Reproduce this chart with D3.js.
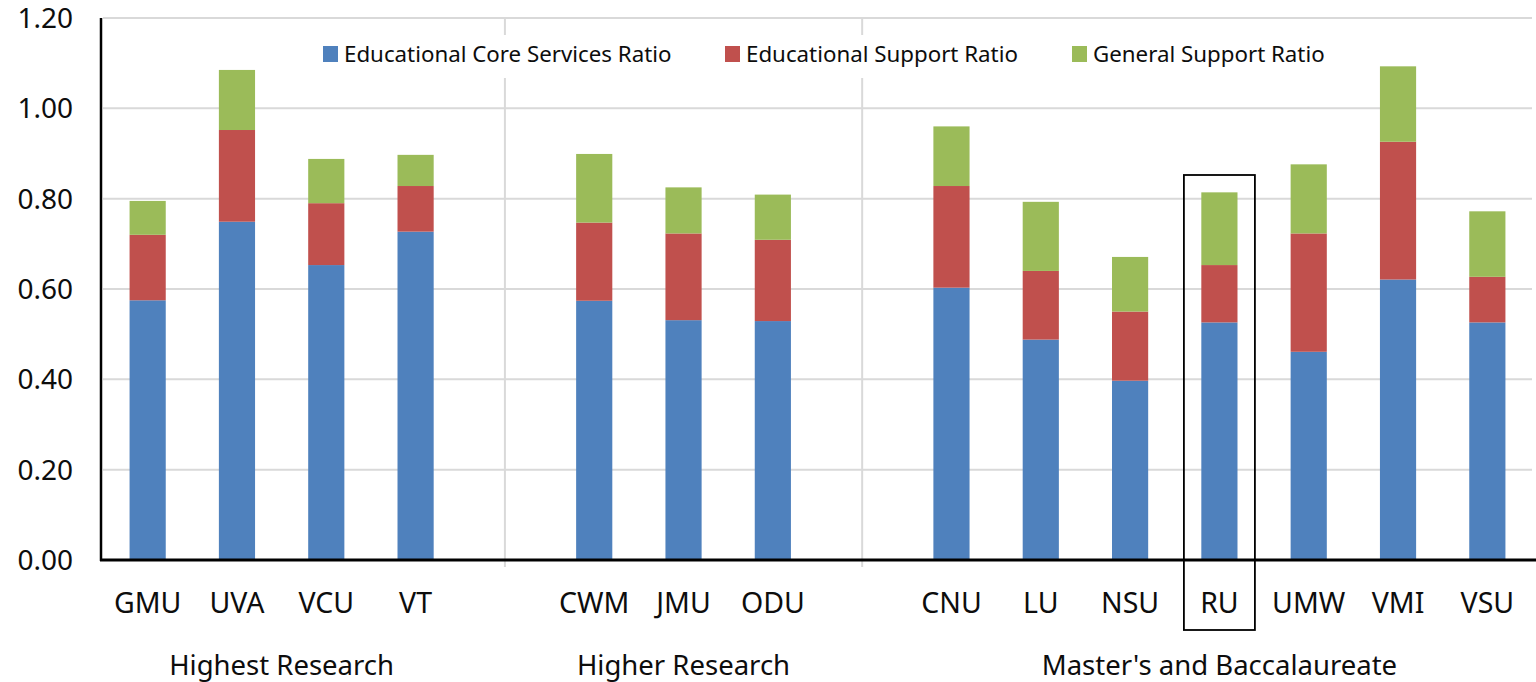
<!DOCTYPE html>
<html>
<head>
<meta charset="utf-8">
<script src="https://d3js.org/d3.v7.min.js"></script>
<style>
  body { margin: 0; background: #fff; }
  svg { display: block; font-family: 'Noto Sans', 'Open Sans', sans-serif; }
  .grid line { stroke: #d9d9d9; stroke-width: 2px; }
  .label { fill: #0d0d0d; }
</style>
</head>
<body>
<div id="chart"></div>
<script>
/* global d3 */

// institutions, in plotting order (empty slots separate the groups)
var institutions = ['GMU', 'UVA', 'VCU', 'VT', 'CWM', 'JMU', 'ODU', 'CNU', 'LU', 'NSU', 'RU', 'UMW', 'VMI', 'VSU'];

// groups of institutions
var groupNames = ['Highest Research', 'Higher Research', "Master's and Baccalaureate"];
var groupMembers = [
  ['GMU', 'UVA', 'VCU', 'VT'],
  ['CWM', 'JMU', 'ODU'],
  ['CNU', 'LU', 'NSU', 'RU', 'UMW', 'VMI', 'VSU']
];

// series (stacked from bottom)
var seriesNames = ['Educational Core Services Ratio', 'Educational Support Ratio', 'General Support Ratio'];
var seriesColors = ['#4f81bd', '#c0504d', '#9bbb59'];

var coreServices = [0.575, 0.749, 0.653, 0.727, 0.574, 0.531, 0.529, 0.603, 0.488, 0.397, 0.526, 0.461, 0.621, 0.526];
var eduSupport = [0.145, 0.203, 0.137, 0.101, 0.173, 0.192, 0.180, 0.225, 0.152, 0.153, 0.127, 0.262, 0.305, 0.101];
var genSupport = [0.075, 0.133, 0.098, 0.069, 0.152, 0.102, 0.100, 0.132, 0.153, 0.121, 0.161, 0.153, 0.167, 0.145];

// y ticks
var yTicks = [0, 0.2, 0.4, 0.6, 0.8, 1.0, 1.2];

// highlighted institution
var highlighted = 'RU';

var width = 1536;
var height = 682;

var plotLeft = 103;
var plotRight = 1532;
var plotTop = 18;
var plotBottom = 560;

// slot list including gap slots between groups
var slots = [];
groupMembers.forEach(function(g, i) {
  if (i > 0) slots.push('_gap' + i);
  g.forEach(function(c) { slots.push(c); });
});

var x = d3.scaleBand()
  .domain(slots)
  .range([plotLeft, plotRight])
  .paddingInner(0.595)
  .paddingOuter(0.2975);

var y = d3.scaleLinear()
  .domain([0, 1.2])
  .range([plotBottom, plotTop]);

// table for the stack
var rows = institutions.map(function(name, i) {
  return { name: name, s0: coreServices[i], s1: eduSupport[i], s2: genSupport[i] };
});
var stacked = d3.stack().keys(['s0', 's1', 's2'])(rows);

var svg = d3.select('#chart').append('svg')
  .attr('width', width)
  .attr('height', height);

// horizontal gridlines
svg.append('g')
  .attr('class', 'grid')
  .selectAll('line').data(yTicks.slice(1)).enter()
  .append('line')
  .attr('x1', plotLeft).attr('x2', plotRight)
  .attr('y1', function(d) { return y(d); })
  .attr('y2', function(d) { return y(d); });

// vertical separators between groups
var gapSlots = slots.filter(function(s) { return s.indexOf('_gap') === 0; });
svg.append('g')
  .attr('class', 'grid')
  .selectAll('line').data(gapSlots).enter()
  .append('line')
  .attr('x1', function(d) { return x(d) + x.bandwidth() / 2; })
  .attr('x2', function(d) { return x(d) + x.bandwidth() / 2; })
  .attr('y1', plotTop - 1)
  .attr('y2', plotBottom + 7);

// stacked bars
svg.append('g').selectAll('g').data(stacked).enter()
  .append('g')
  .attr('fill', function(d, i) { return seriesColors[i]; })
  .selectAll('rect').data(function(d) { return d; }).enter()
  .append('rect')
  .attr('x', function(d) { return x(d.data.name); })
  .attr('width', x.bandwidth())
  .attr('y', function(d) { return y(d[1]); })
  .attr('height', function(d) { return y(d[0]) - y(d[1]); });

// axes lines
svg.append('line')
  .attr('x1', plotLeft - 2).attr('x2', plotLeft - 2)
  .attr('y1', plotTop).attr('y2', plotBottom + 1)
  .attr('stroke', '#000').attr('stroke-width', 2.5);
svg.append('line')
  .attr('x1', plotLeft - 3).attr('x2', width)
  .attr('y1', plotBottom).attr('y2', plotBottom)
  .attr('stroke', '#000').attr('stroke-width', 3);

// y tick labels
svg.append('g').selectAll('text').data(yTicks).enter()
  .append('text')
  .attr('class', 'label')
  .attr('x', 73)
  .attr('y', function(d) { return y(d); })
  .attr('dy', '0.36em')
  .attr('text-anchor', 'end')
  .style('font-size', '28px')
  .text(function(d) { return d3.format('.2f')(d); });

// category labels
svg.append('g').selectAll('text').data(institutions).enter()
  .append('text')
  .attr('class', 'label')
  .attr('x', function(d) { return x(d) + x.bandwidth() / 2; })
  .attr('y', 613)
  .attr('text-anchor', 'middle')
  .style('font-size', '28.5px')
  .text(function(d) { return d; });

// group labels, centred under their members
svg.append('g').selectAll('text').data(groupNames).enter()
  .append('text')
  .attr('class', 'label')
  .attr('x', function(d, i) {
    var m = groupMembers[i];
    return (x(m[0]) + x(m[m.length - 1]) + x.bandwidth()) / 2;
  })
  .attr('y', 675)
  .attr('text-anchor', 'middle')
  .style('font-size', '27.5px')
  .text(function(d) { return d; });

// legend with white backdrop over the separators
var legendX = [323, 725, 1072];
var legend = svg.append('g');
legend.append('rect')
  .attr('x', 310).attr('y', 35)
  .attr('width', 1030).attr('height', 43)
  .attr('fill', '#fff');
var item = legend.selectAll('g').data(seriesNames).enter()
  .append('g')
  .attr('transform', function(d, i) { return 'translate(' + legendX[i] + ',46)'; });
item.append('rect')
  .attr('width', 15).attr('height', 16)
  .attr('fill', function(d, i) { return seriesColors[i]; });
item.append('text')
  .attr('class', 'label')
  .attr('x', 21)
  .attr('y', 16)
  .style('font-size', '22.3px')
  .text(function(d) { return d; });

// box around the highlighted institution
svg.append('rect')
  .attr('x', x(highlighted) + x.bandwidth() / 2 - 35.5)
  .attr('y', 175)
  .attr('width', 71)
  .attr('height', 455)
  .attr('fill', 'none')
  .attr('stroke', '#000')
  .attr('stroke-width', 1.8);
</script>
</body>
</html>
